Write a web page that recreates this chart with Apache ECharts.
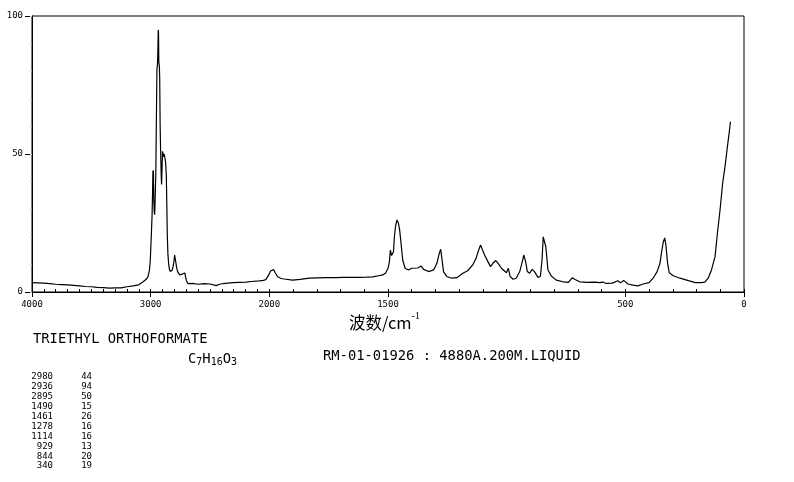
<!DOCTYPE html>
<html><head><meta charset="utf-8">
<script src="https://cdn.jsdelivr.net/npm/echarts@6/dist/echarts.min.js"></script>
<style>html,body{margin:0;padding:0;background:#fff}#c{width:794px;height:482px}</style>
</head><body><div id="c"></div>
<script>
// Spectrum trace: wavenumber (cm-1) and intensity (%)
const wavenumbers = [4000,3950,3900,3850,3800,3750,3700,3650,3600,3550,3500,3450,3400,3345,3300,3250,3200,3149,3100,3064,3040,3023,3010,3003,2994,2988,2984,2981,2979,2977,2974,2970,2966,2962,2957,2952,2947,2943,2939,2936,2934,2931,2927,2924,2920,2916,2911,2908,2904,2900,2896,2891,2886,2880,2874,2868,2864,2860,2855,2849,2842,2835,2825,2818,2810,2804,2798,2793,2787,2782,2773,2765,2756,2745,2734,2720,2712,2706,2700,2686,2650,2600,2550,2500,2448,2420,2392,2350,2308,2250,2196,2150,2084,2050,2030,2014,2005,1995,1989,1982,1975,1965,1950,1937,1902,1870,1831,1800,1761,1720,1690,1650,1620,1590,1564,1540,1522,1510,1500,1494,1490,1485,1481,1477,1473,1468,1462,1456,1451,1445,1438,1428,1414,1400,1392,1375,1360,1350,1329,1308,1294,1284,1278,1273,1266,1252,1231,1210,1185,1164,1143,1129,1118,1110,1103,1093,1079,1068,1058,1046,1036,1022,1001,993,985,973,960,945,934,928,920,913,903,893,883,868,858,851,846,841,835,826,812,791,763,740,723,712,692,660,630,608,595,580,555,531,520,507,489,468,447,425,400,383,366,354,347,340,334,329,322,315,298,270,234,205,180,165,151,137,122,112,101,90,80,70,62,57];
const intensity = [3.4,3.3,3.2,3.0,2.8,2.7,2.6,2.4,2.2,2.0,1.9,1.7,1.6,1.4,1.5,1.5,1.9,2.2,2.6,3.7,4.5,5.5,8,11.6,21,28,36,44,40,44,34,29,28,28.5,42,62,81,82,88,95,94,83,82,78,60,51,42,39,45,51,50,49,50,50,47,42,32,21,14,10.4,8.2,7.4,7.6,8,9.5,11,13.4,13.2,10.5,9,7.4,6.8,6.2,6.4,6.5,7,6.9,5.5,4.3,3.0,3.1,2.8,3.0,2.9,2.3,2.8,3.0,3.2,3.4,3.5,3.6,3.8,4.0,4.2,4.5,5.0,6.2,7.6,8.2,8.1,7.0,5.5,4.9,4.7,4.3,4.6,5.0,5.1,5.2,5.2,5.3,5.3,5.3,5.4,5.5,5.9,6.2,6.9,8.6,11,15.2,13.2,12.8,14.6,20,24,26.1,24.9,22.5,17.6,11.6,8.6,8.0,8.6,8.8,8.7,9.4,8.2,7.4,8.0,10.4,14,15.5,12.2,7.4,5.6,5.0,5.2,6.8,7.7,9.8,12.2,15.2,17,15.5,13.4,11.0,9.2,10.4,11.4,10.4,8.6,7.0,8.6,5.6,4.6,5.0,7.4,11,13.4,11,7.4,6.8,8.2,7.4,5.3,5.6,11.6,20,20,16.4,8,5.8,4.3,3.7,3.5,5.2,4.5,3.7,3.5,3.6,3.4,3.6,3.1,3.2,4.1,3.3,4.2,2.9,2.5,2.2,2.9,3.4,5.0,7.4,10.4,14.6,18.2,19.6,17,10.4,7.0,5.9,5.0,4.1,3.4,3.4,3.6,5.0,8.0,12.8,21.3,29.7,39.4,45.4,52.6,58,61.7];

const xTickLabels = [4000,3000,2000,1500,500,0];
const yTickLabels = [0,50,100];
const peakWavenumbers = ['2980','2936','2895','1490','1461','1278','1114','929','844','340'];
const peakIntensities = ['44','94','50','15','26','16','16','13','20','19'];
const compoundName = 'TRIETHYL ORTHOFORMATE';
const sampleInfo = 'RM-01-01926 : 4880A.200M.LIQUID';
const formulaParts = [['C','7'],['H','16'],['O','3']];

// Piecewise wavenumber axis: 4000-2000 at half scale, 2000-0 at full scale
function toAxis(w){ return w >= 2000 ? (4000 - w) / 2 : 1000 + (2000 - w); }
function fromAxis(u){ return u <= 1000 ? 4000 - 2 * u : 2000 - (u - 1000); }
const minorX = []; for (let w = 4000; w >= 0; w -= 100) minorX.push(toAxis(w));
const minorY = []; for (let v = 0; v <= 100; v += 10) minorY.push(v);

const seriesData = wavenumbers.map((w, i) => [toAxis(w), intensity[i]]);
const mono = 'DejaVu Sans Mono';

const chart = echarts.init(document.getElementById('c'), null, {renderer: 'canvas'});
const formulaRich = formulaParts.map(p => '{n|' + p[0] + '}{s|' + p[1] + '}').join('');
const graphics = [
  {type:'text', left:349, top:311, style:{text:'{a|波数/cm}{b|-1}', rich:{
      a:{fontFamily:'Noto Sans CJK SC', fontSize:16.5, lineHeight:20, verticalAlign:'bottom', fill:'#000'},
      b:{fontFamily:'Liberation Serif', fontSize:10, lineHeight:10, verticalAlign:'top', fill:'#000'}}}},
  {type:'text', left:33, top:332, style:{text:compoundName, font:'13.8px "DejaVu Sans Mono"', fill:'#000'}},
  {type:'text', left:188, top:348, style:{text:formulaRich, rich:{
      n:{fontFamily:mono, fontSize:13.8, lineHeight:15, verticalAlign:'top', fill:'#000'},
      s:{fontFamily:mono, fontSize:10, lineHeight:10, padding:[9,0,0,0], verticalAlign:'bottom', fill:'#000'}}}},
  {type:'text', left:323, top:349, style:{text:sampleInfo, font:'13.8px "DejaVu Sans Mono"', fill:'#000'}}
];
peakWavenumbers.forEach((w, i) => {
  graphics.push({type:'text', x:53, y:377 + i * 9.9, style:{text:w, font:'9px "DejaVu Sans Mono"', fill:'#000', textAlign:'right', textVerticalAlign:'middle'}});
  graphics.push({type:'text', x:92, y:377 + i * 9.9, style:{text:peakIntensities[i], font:'9px "DejaVu Sans Mono"', fill:'#000', textAlign:'right', textVerticalAlign:'middle'}});
});

chart.setOption({
  animation: false,
  backgroundColor: '#fff',
  grid: {left:32, right:50, top:16, bottom:190, show:true, borderColor:'#000', borderWidth:1, backgroundColor:'transparent'},
  xAxis: [
    {type:'value', min:0, max:3000, position:'bottom',
     axisLine:{show:true, lineStyle:{color:'#000', width:1}},
     axisTick:{show:true, customValues:xTickLabels.map(toAxis), length:5, lineStyle:{color:'#000'}},
     axisLabel:{show:true, customValues:xTickLabels.map(toAxis), formatter:v => String(Math.round(fromAxis(v))),
       color:'#000', fontFamily:mono, fontSize:9, margin:8, showMinLabel:true, showMaxLabel:true},
     splitLine:{show:false}},
    {type:'value', min:0, max:3000, position:'bottom',
     axisLine:{show:false},
     axisTick:{show:true, inside:true, customValues:minorX, length:3, lineStyle:{color:'#000'}},
     axisLabel:{show:false}, splitLine:{show:false}}
  ],
  yAxis: [
    {type:'value', min:0, max:100, position:'left',
     axisLine:{show:true, lineStyle:{color:'#000', width:1}},
     axisTick:{show:true, customValues:yTickLabels, length:7, lineStyle:{color:'#000'}},
     axisLabel:{show:true, customValues:yTickLabels, color:'#000', fontFamily:mono, fontSize:9, margin:9, showMinLabel:true, showMaxLabel:true},
     splitLine:{show:false}},
    {type:'value', min:0, max:100, position:'left',
     axisLine:{show:false},
     axisTick:{show:true, customValues:minorY, length:2, lineStyle:{color:'#c8c8c8'}},
     axisLabel:{show:false}, splitLine:{show:false}}
  ],
  series: [{type:'line', xAxisIndex:0, yAxisIndex:0, data:seriesData, showSymbol:false, symbol:'none',
    lineStyle:{color:'#000', width:1.2}, smooth:false, z:3}],
  graphic: graphics
});
</script></body></html>
